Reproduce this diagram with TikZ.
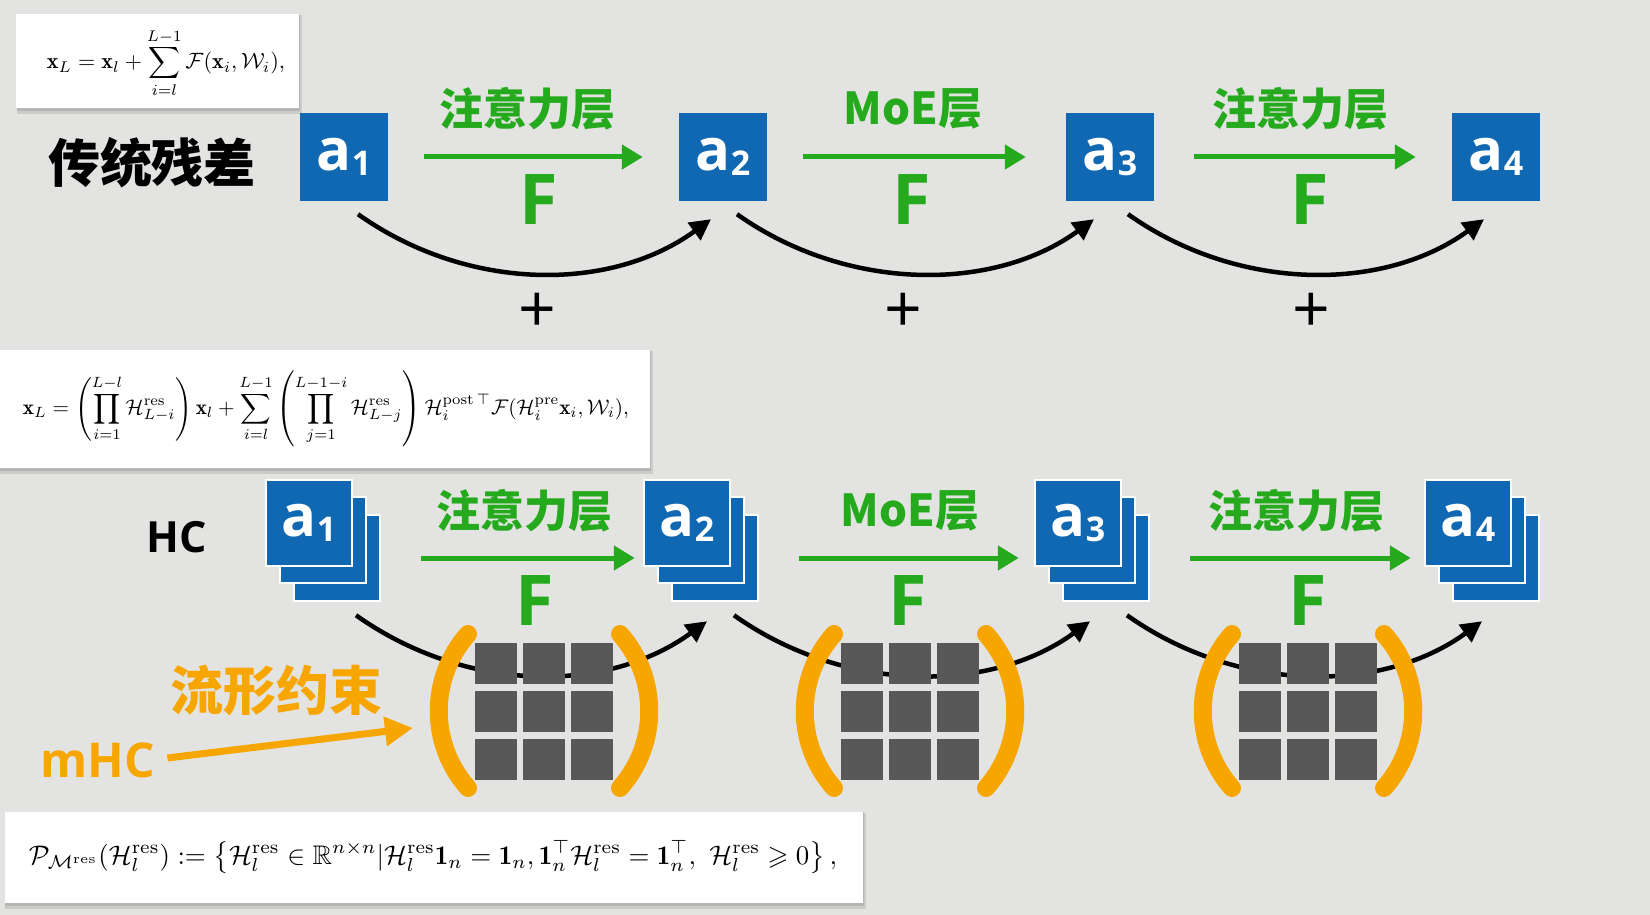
\documentclass[tikz,border=0pt]{standalone}
\usepackage{amsmath,amssymb}
\usepackage{fontspec}
\usetikzlibrary{arrows.meta,calc}
\newfontfamily\cjk{Noto Sans CJK SC}
\newfontfamily\lat{Open Sans}
\definecolor{bg}{HTML}{E3E4E1}
\definecolor{boxblue}{HTML}{1168B2}
\definecolor{lgreen}{HTML}{25AA1D}
\definecolor{morange}{HTML}{F7A600}
\definecolor{mgray}{HTML}{585858}
\newcommand{\boxlabel}[1]{{\lat\bfseries\fontsize{58}{58}\selectfont a}{\lat\bfseries\fontsize{34}{34}\selectfont\raisebox{-5pt}{#1}}}
\tikzset{
 abox/.style={fill=boxblue, minimum width=88pt, minimum height=88pt, inner sep=0pt, text=white},
 sbox/.style={fill=boxblue, draw=white, line width=2.5pt, minimum width=86pt, minimum height=86pt, inner sep=0pt, text=white},
 garrow/.style={draw=lgreen, line width=5pt, -{Triangle[length=21pt,width=24pt]}},
 glabel/.style={text=lgreen, font=\cjk\bfseries\fontsize{44}{44}\selectfont, inner sep=0pt},
 flabel/.style={text=lgreen, font=\lat\bfseries\fontsize{70}{70}\selectfont, inner sep=0pt},
 resarrow/.style={line width=4.5pt, black, -{Triangle[length=21pt,width=21pt]}},
 plussign/.style={font=\lat\fontsize{66}{66}\selectfont, inner sep=0pt},
 mcell/.style={fill=mgray, minimum width=42pt, minimum height=41pt, inner sep=0pt},
 obracket/.style={draw=morange, line width=18pt, line cap=round},
 formbox/.style={fill=white, inner sep=0pt},
 oarrow/.style={draw=morange, line width=7pt, -{Triangle[length=28pt,width=28pt]}},
}
\begin{document}
\begin{tikzpicture}[x=1pt,y=-1pt]
\fill[bg] (0,0) rectangle (1650,915);
\useasboundingbox (0,0) rectangle (1650,915);

% ---------- formula boxes ----------
\fill[black,opacity=0.10] (17,15) rectangle (302,114);
\fill[black,opacity=0.10] (17,14) rectangle (300,111);
\node[formbox, minimum width=283pt, minimum height=94pt] (fb1) at (157.5,61) {};
\node[inner sep=0pt] (f1) at (166,63) {\resizebox{238pt}{!}{$\displaystyle \mathbf{x}_L=\mathbf{x}_l+\sum_{i=l}^{L-1}\mathcal{F}(\mathbf{x}_i,\mathcal{W}_i),$}};

\fill[black,opacity=0.10] (0,351) rectangle (653,474);
\fill[black,opacity=0.10] (0,350) rectangle (651,471);
\node[formbox, minimum width=650pt, minimum height=118pt] (fb2) at (325,409) {};
\node[inner sep=0pt] (f2) at (326,409) {\resizebox{606pt}{!}{$\displaystyle \mathbf{x}_L=\left(\prod_{i=1}^{L-l}\mathcal{H}^{\mathrm{res}}_{L-i}\right)\mathbf{x}_l+\sum_{i=l}^{L-1}\left(\prod_{j=1}^{L-1-i}\mathcal{H}^{\mathrm{res}}_{L-j}\right)\mathcal{H}_i^{\mathrm{post}\,\top}\mathcal{F}(\mathcal{H}_i^{\mathrm{pre}}\mathbf{x}_i,\mathcal{W}_i),$}};

\fill[black,opacity=0.10] (5,813) rectangle (866,909);
\fill[black,opacity=0.10] (5,812) rectangle (864,906);
\node[formbox, minimum width=858pt, minimum height=91pt] (fb3) at (434,857.5) {};
\node[inner sep=0pt] (f3) at (433,857) {\resizebox{808pt}{!}{$\displaystyle \mathcal{P}_{\mathcal{M}^{\mathrm{res}}}(\mathcal{H}_l^{\mathrm{res}}):=\left\{\mathcal{H}_l^{\mathrm{res}}\in\mathbb{R}^{n\times n}|\mathcal{H}_l^{\mathrm{res}}\mathbf{1}_n=\mathbf{1}_n,\mathbf{1}_n^{\top}\mathcal{H}_l^{\mathrm{res}}=\mathbf{1}_n^{\top},\ \mathcal{H}_l^{\mathrm{res}}\geqslant 0\right\},$}};

% ---------- top row ----------
\node[font=\cjk\bfseries\fontsize{52}{52}\selectfont, inner sep=0pt] (ctcc) at (152,163) {传统残差};
\node[abox] (A1) at (344,157) {\boxlabel{1}};
\node[abox] (A2) at (723,157) {\boxlabel{2}};
\node[abox] (A3) at (1110,157) {\boxlabel{3}};
\node[abox] (A4) at (1496,157) {\boxlabel{4}};

\draw[garrow] ([xshift=36pt]A1.east) -- ([xshift=-36pt]A2.west);
\draw[garrow] ([xshift=36pt]A2.east) -- ([xshift=-40pt]A3.west);
\draw[garrow] ([xshift=40pt]A3.east) -- ([xshift=-36pt]A4.west);

\node[glabel] (tl1) at (527,109) {注意力层};
\node[glabel] (tl2) at (913,109) {MoE层};
\node[glabel] (tl3) at (1300,109) {注意力层};
\node[flabel] (tf1) at (539,200) {F};
\node[flabel] (tf2) at (912,200) {F};
\node[flabel] (tf3) at (1310,200) {F};

\draw[resarrow] ([xshift=14pt,yshift=-13pt]A1.south) .. controls +(110,78) and +(-100,73) .. ([xshift=-12pt,yshift=-18pt]A2.south);
\draw[resarrow] ([xshift=14pt,yshift=-13pt]A2.south) .. controls +(110,78) and +(-100,73) .. ([xshift=-16pt,yshift=-18pt]A3.south);
\draw[resarrow] ([xshift=18pt,yshift=-13pt]A3.south) .. controls +(110,78) and +(-100,73) .. ([xshift=-12pt,yshift=-18pt]A4.south);

\node[plussign] (p1) at (537,313) {+};
\node[plussign] (p2) at (903,313) {+};
\node[plussign] (p3) at (1311,313) {+};

% ---------- bottom row ----------
\node[font=\lat\bfseries\fontsize{43}{43}\selectfont, inner sep=0pt] (hc) at (177,537) {HC};

\node[sbox] (B1c) at (337,558) {};
\node[sbox] (B1b) at (323,540) {};
\node[sbox] (B1) at (309,523) {\boxlabel{1}};
\node[sbox] (B2c) at (715,558) {};
\node[sbox] (B2b) at (701,540) {};
\node[sbox] (B2) at (687,523) {\boxlabel{2}};
\node[sbox] (B3c) at (1106,558) {};
\node[sbox] (B3b) at (1092,540) {};
\node[sbox] (B3) at (1078,523) {\boxlabel{3}};
\node[sbox] (B4c) at (1496,558) {};
\node[sbox] (B4b) at (1482,540) {};
\node[sbox] (B4) at (1468,523) {\boxlabel{4}};

\draw[garrow] ([xshift=40pt]B1c.east) -- ([xshift=-8pt,yshift=-35pt]B2.west);
\draw[garrow] ([xshift=40pt]B2c.east) -- ([xshift=-15pt,yshift=-35pt]B3.west);
\draw[garrow] ([xshift=40pt]B3c.east) -- ([xshift=-13pt,yshift=-35pt]B4.west);

\node[glabel] (bl1) at (524,511) {注意力层};
\node[glabel] (bl2) at (910,511) {MoE层};
\node[glabel] (bl3) at (1296,511) {注意力层};
\node[flabel] (bf1) at (535,601) {F};
\node[flabel] (bf2) at (908,601) {F};
\node[flabel] (bf3) at (1308,601) {F};

\draw[resarrow] ([xshift=47pt,yshift=-48pt]B1.south) .. controls +(110,78) and +(-100,73) .. ([xshift=20pt,yshift=-54pt]B2.south);
\draw[resarrow] ([xshift=47pt,yshift=-48pt]B2.south) .. controls +(110,78) and +(-100,73) .. ([xshift=12pt,yshift=-54pt]B3.south);
\draw[resarrow] ([xshift=49pt,yshift=-48pt]B3.south) .. controls +(110,78) and +(-100,73) .. ([xshift=14pt,yshift=-54pt]B4.south);

% matrices with brackets
\foreach \mx/\nm in {544/m1, 910/m2, 1308/m3}{
  \foreach \dx/\cx in {-48/1, 0/2, 48/3}{
    \foreach \dy/\ry in {-48/1, 0/2, 48/3}{
      \node[mcell] (\nm c\cx\ry) at (\mx+\dx,711+\dy) {};
    }
  }
  \draw[obracket] (\mx-76,634) .. controls (\mx-115,678) and (\mx-115,744) .. (\mx-76,788);
  \draw[obracket] (\mx+76,634) .. controls (\mx+115,678) and (\mx+115,744) .. (\mx+76,788);
}

% mHC annotation
\node[text=morange, font=\cjk\bfseries\fontsize{53}{53}\selectfont, inner sep=0pt] (lxys) at (276,691) {流形约束};
\node[text=morange, font=\lat\bfseries\fontsize{48}{48}\selectfont, inner sep=0pt] (mhc) at (98,760) {mHC};
\coordinate (otip) at (413,728);
\draw[oarrow] ([xshift=12pt,yshift=2pt]mhc.east) -- (otip);
\end{tikzpicture}
\end{document}
